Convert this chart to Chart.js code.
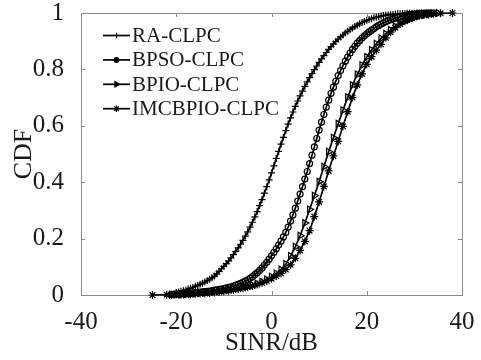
<!DOCTYPE html>
<html>
<head>
<meta charset="utf-8">
<title>SINR CDF</title>
<script src="https://cdn.jsdelivr.net/npm/chart.js@4.4.0/dist/chart.umd.min.js"></script>
<style>
  html, body { margin: 0; padding: 0; background: #fff; }
  canvas { display: block; }
</style>
</head>
<body>
<canvas id="cdfChart" width="481" height="360"></canvas>
<script>
// SINR (dB) sample grids and empirical CDF values for each scheme
const range = (start, end, step) => {
    const out = [];
    for (let v = start; v <= end + 1e-9; v += step) out.push(Math.round(v * 10) / 10);
    return out;
};

const raSinr = range(-20, 33, 0.5);
const raCdf = [
    0.009, 0.011, 0.013, 0.015, 0.018, 0.021, 0.024, 0.027, 0.031, 0.034,
    0.038, 0.042, 0.046, 0.051, 0.056, 0.061, 0.067, 0.075, 0.084, 0.093,
    0.102, 0.111, 0.121, 0.132, 0.143, 0.155, 0.167, 0.180, 0.194, 0.209,
    0.224, 0.241, 0.258, 0.277, 0.296, 0.317, 0.338, 0.361, 0.384, 0.408,
    0.433, 0.458, 0.484, 0.509, 0.535, 0.559, 0.583, 0.606, 0.628, 0.649,
    0.669, 0.688, 0.706, 0.723, 0.740, 0.756, 0.771, 0.785, 0.799, 0.812,
    0.825, 0.837, 0.849, 0.860, 0.871, 0.881, 0.890, 0.899, 0.907, 0.915,
    0.922, 0.929, 0.935, 0.941, 0.947, 0.952, 0.957, 0.962, 0.966, 0.970,
    0.974, 0.977, 0.980, 0.983, 0.985, 0.987, 0.989, 0.991, 0.992, 0.993,
    0.994, 0.995, 0.996, 0.997, 0.997, 0.998, 0.998, 0.999, 0.999, 0.999,
    0.999, 1.000, 1.000, 1.000, 1.000, 1.000, 1.000
];

const bpsoSinr = range(-21, 34, 0.5);
const bpsoCdf = [
    0.002, 0.002, 0.003, 0.003, 0.004, 0.004, 0.005, 0.005, 0.006, 0.007,
    0.008, 0.009, 0.010, 0.011, 0.012, 0.013, 0.014, 0.015, 0.017, 0.018,
    0.020, 0.021, 0.023, 0.025, 0.027, 0.029, 0.032, 0.035, 0.038, 0.041,
    0.045, 0.049, 0.054, 0.059, 0.065, 0.072, 0.079, 0.087, 0.096, 0.106,
    0.116, 0.127, 0.139, 0.151, 0.164, 0.177, 0.191, 0.206, 0.222, 0.241,
    0.262, 0.284, 0.308, 0.333, 0.358, 0.384, 0.411, 0.438, 0.466, 0.496,
    0.525, 0.555, 0.585, 0.613, 0.640, 0.666, 0.691, 0.715, 0.737, 0.758,
    0.778, 0.796, 0.813, 0.829, 0.844, 0.858, 0.871, 0.882, 0.893, 0.902,
    0.911, 0.919, 0.926, 0.933, 0.939, 0.945, 0.951, 0.956, 0.961, 0.965,
    0.969, 0.973, 0.976, 0.979, 0.982, 0.985, 0.987, 0.989, 0.991, 0.993,
    0.994, 0.995, 0.996, 0.997, 0.998, 0.999, 0.999, 1.000, 1.000, 1.000, 1.000
];

const bpioSinr = range(-21, 35, 1);
const bpioCdf = [
    0.001, 0.002, 0.002, 0.003, 0.004, 0.005, 0.007, 0.008, 0.010, 0.012,
    0.014, 0.016, 0.019, 0.022, 0.025, 0.028, 0.031, 0.035, 0.040, 0.047,
    0.055, 0.065, 0.076, 0.090, 0.110, 0.138, 0.171, 0.210, 0.255, 0.303,
    0.352, 0.402, 0.455, 0.508, 0.558, 0.607, 0.655, 0.701, 0.744, 0.782,
    0.815, 0.844, 0.869, 0.891, 0.910, 0.926, 0.940, 0.952, 0.962, 0.971,
    0.978, 0.984, 0.989, 0.993, 0.996, 0.998, 1.000
];

const imcSinr = [-25, -22].concat(range(-21, 34, 1), [35.5, 38]);
const imcCdf = [
    0.000, 0.001,
    0.001, 0.002, 0.002, 0.003, 0.003, 0.004, 0.005, 0.006, 0.007, 0.009,
    0.011, 0.013, 0.015, 0.018, 0.021, 0.024, 0.028, 0.032, 0.037, 0.043,
    0.050, 0.058, 0.067, 0.077, 0.090, 0.107, 0.130, 0.158, 0.190, 0.228,
    0.278, 0.330, 0.385, 0.440, 0.493, 0.545, 0.598, 0.650, 0.700, 0.745,
    0.784, 0.818, 0.845, 0.868, 0.889, 0.912, 0.932, 0.948, 0.961, 0.971,
    0.979, 0.985, 0.990, 0.993, 0.995, 0.997,
    0.999, 1.000
];

const seriesNames = ['RA-CLPC', 'BPSO-CLPC', 'BPIO-CLPC', 'IMCBPIO-CLPC'];
const xTicks = [-40, -20, 0, 20, 40];
const yTicks = [0, 0.2, 0.4, 0.6, 0.8, 1];

const FONT = "'Liberation Serif', 'Times New Roman', serif";
const AXIS_COLOR = '#8a8a8a';
const TEXT_COLOR = '#1a1a1a';

const toPoints = (xs, ys) => xs.map((x, i) => ({ x: x, y: ys[i] }));

function makeSeries(label, xs, ys, style, radius, rotation) {
    return {
        label: label,
        data: toPoints(xs, ys),
        borderColor: '#000',
        borderWidth: 1.7,
        pointStyle: style,
        pointRadius: radius,
        pointRotation: rotation || 0,
        pointBorderColor: '#000',
        pointBackgroundColor: 'rgba(0,0,0,0)',
        pointBorderWidth: 1.2,
        tension: 0,
        clip: false
    };
}

// box frame + inward ticks on all four sides, then the legend
const matlabFrame = {
    id: 'matlabFrame',
    beforeDatasetsDraw(chart) {
        const { ctx, chartArea: a, scales } = chart;
        const tl = 4;
        ctx.save();
        ctx.strokeStyle = AXIS_COLOR;
        ctx.lineWidth = 1;
        ctx.strokeRect(Math.round(a.left) + 0.5, Math.round(a.top) + 0.5,
            Math.round(a.right - a.left), Math.round(a.bottom - a.top));
        ctx.beginPath();
        xTicks.forEach(v => {
            const px = Math.round(scales.x.getPixelForValue(v)) + 0.5;
            ctx.moveTo(px, a.bottom); ctx.lineTo(px, a.bottom - tl);
            ctx.moveTo(px, a.top); ctx.lineTo(px, a.top + tl);
        });
        yTicks.forEach(v => {
            const py = Math.round(scales.y.getPixelForValue(v)) + 0.5;
            ctx.moveTo(a.left, py); ctx.lineTo(a.left + tl, py);
            ctx.moveTo(a.right, py); ctx.lineTo(a.right - tl, py);
        });
        ctx.stroke();
        ctx.restore();
    },
    afterDatasetsDraw(chart) {
        const { ctx, chartArea: a } = chart;
        const x0 = a.left + 22;
        const lineLen = 27;
        const y0 = a.top + 22.5;
        const rowH = 24.4;
        ctx.save();
        chart.data.datasets.forEach((ds, i) => {
            const y = y0 + i * rowH;
            ctx.strokeStyle = '#000';
            ctx.lineWidth = 1.7;
            ctx.beginPath();
            ctx.moveTo(x0, y);
            ctx.lineTo(x0 + lineLen, y);
            ctx.stroke();
            ctx.lineWidth = 1.2;
            ctx.fillStyle = '#000';
            Chart.helpers.drawPoint(ctx, {
                pointStyle: ds.pointStyle,
                radius: ds.pointRadius * 0.8,
                rotation: ds.pointRotation,
                borderWidth: 1.2
            }, x0 + lineLen / 2, y);
            ctx.fillStyle = TEXT_COLOR;
            ctx.font = '21px ' + FONT;
            ctx.textAlign = 'left';
            ctx.textBaseline = 'middle';
            ctx.fillText(ds.label, x0 + lineLen + 2, y + 1);
        });
        ctx.restore();
    }
};

new Chart(document.getElementById('cdfChart'), {
    type: 'line',
    data: {
        datasets: [
            makeSeries(seriesNames[0], raSinr, raCdf, 'cross', 3.5),
            makeSeries(seriesNames[1], bpsoSinr, bpsoCdf, 'circle', 3),
            makeSeries(seriesNames[2], bpioSinr, bpioCdf, 'triangle', 4, 90),
            makeSeries(seriesNames[3], imcSinr, imcCdf, 'star', 4)
        ]
    },
    options: {
        responsive: false,
        animation: false,
        layout: { padding: { left: 0, right: 19, top: 13, bottom: 0 } },
        plugins: { legend: { display: false }, tooltip: { enabled: false } },
        scales: {
            x: {
                type: 'linear',
                min: -40,
                max: 40,
                afterFit: s => {
                    s.height = 65;
                    s.paddingLeft = 0;
                    s.paddingRight = 0;
                },
                afterBuildTicks: s => { s.ticks = xTicks.map(v => ({ value: v })); },
                grid: { display: false },
                border: { display: false },
                ticks: {
                    color: TEXT_COLOR,
                    padding: 4,
                    maxRotation: 0,
                    font: { family: FONT, size: 25 }
                },
                title: {
                    display: true,
                    text: 'SINR/dB',
                    color: TEXT_COLOR,
                    padding: { top: 0, bottom: 2 },
                    font: { family: FONT, size: 25 }
                }
            },
            y: {
                type: 'linear',
                min: 0,
                max: 1,
                afterFit: s => {
                    s.width = 81;
                    s.paddingTop = 0;
                    s.paddingBottom = 0;
                },
                afterBuildTicks: s => { s.ticks = yTicks.map(v => ({ value: v })); },
                grid: { display: false },
                border: { display: false },
                ticks: {
                    color: TEXT_COLOR,
                    padding: 9,
                    font: { family: FONT, size: 25 },
                    callback: v => String(Math.round(v * 10) / 10)
                },
                title: {
                    display: true,
                    text: 'CDF',
                    color: TEXT_COLOR,
                    padding: { top: 9, bottom: 0 },
                    font: { family: FONT, size: 26 }
                }
            }
        }
    },
    plugins: [matlabFrame]
});
</script>
</body>
</html>
